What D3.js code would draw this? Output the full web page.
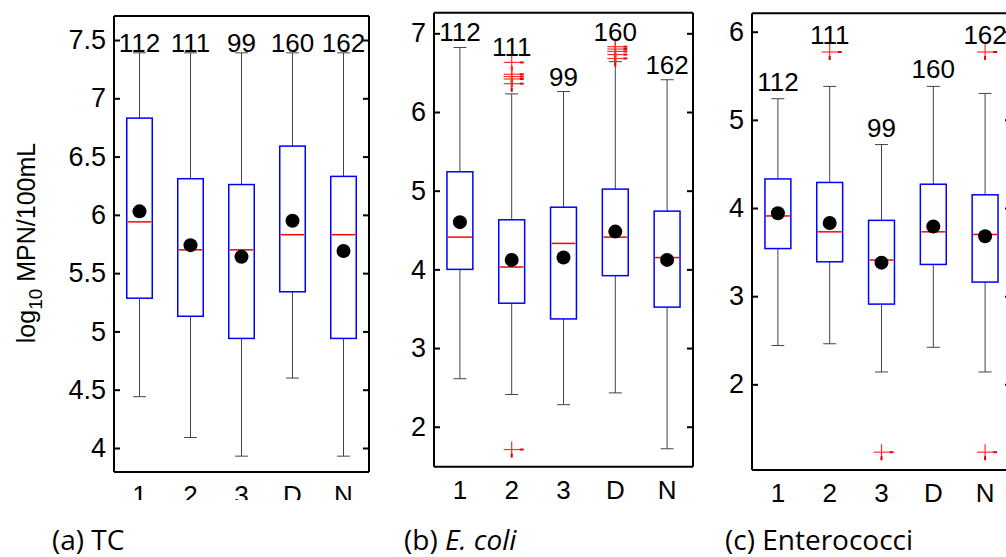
<!DOCTYPE html>
<html>
<head>
<meta charset="utf-8">
<script src="https://cdn.jsdelivr.net/npm/d3@7"></script>
<style>
  html, body { margin: 0; padding: 0; background: #fff; }
  svg { display: block; }
  .tick-label { font-family: "Liberation Sans", Arial, sans-serif; font-size: 27px; fill: #000; }
  .count-label, .cat-label { font-family: "Liberation Sans", Arial, sans-serif; font-size: 26px; fill: #000; }
  .ylab { font-family: "Liberation Sans", Arial, sans-serif; font-size: 25px; fill: #000; }
  .caption { font-family: "Open Sans", sans-serif; font-size: 28px; fill: #000; }
</style>
</head>
<body>
<svg id="chart" width="1006" height="557"></svg>
<script>
// ---------------- data ----------------
const categories = ["1", "2", "3", "D", "N"];
const counts = [112, 111, 99, 160, 162];

// (a) TC
const tcLow    = [4.44, 4.09, 3.93, 4.60, 3.93];
const tcQ1     = [5.285, 5.13, 4.94, 5.34, 4.94];
const tcMedian = [5.94, 5.70, 5.70, 5.83, 5.83];
const tcQ3     = [6.83, 6.31, 6.26, 6.59, 6.33];
const tcHigh   = [7.39, 7.39, 7.39, 7.39, 7.39];
const tcMean   = [6.03, 5.74, 5.64, 5.95, 5.69];
const tcOutliers = [[], [], [], [], []];
const tcTicks  = [4, 4.5, 5, 5.5, 6, 6.5, 7, 7.5];

// (b) E. coli
const ecLow    = [2.61, 2.41, 2.28, 2.43, 1.72];
const ecQ1     = [4.00, 3.57, 3.37, 3.92, 3.52];
const ecMedian = [4.41, 4.03, 4.33, 4.41, 4.15];
const ecQ3     = [5.24, 4.63, 4.79, 5.02, 4.74];
const ecHigh   = [6.82, 6.23, 6.26, 6.64, 6.41];
const ecMean   = [4.60, 4.12, 4.15, 4.48, 4.12];
const ecOutliers = [[], [6.63, 6.48, 6.45, 6.42, 6.36, 1.71], [], [6.83, 6.80, 6.77, 6.73, 6.68], []];
const ecTicks  = [2, 3, 4, 5, 6, 7];

// (c) Enterococci
const enLow    = [2.44, 2.46, 2.14, 2.42, 2.14];
const enQ1     = [3.54, 3.39, 2.91, 3.36, 3.16];
const enMedian = [3.91, 3.73, 3.41, 3.73, 3.70];
const enQ3     = [4.33, 4.29, 3.86, 4.27, 4.15];
const enHigh   = [5.24, 5.38, 4.72, 5.38, 5.30];
const enMean   = [3.94, 3.83, 3.38, 3.79, 3.68];
const enOutliers = [[], [5.77], [1.23], [], [5.77, 1.23]];
const enTicks  = [2, 3, 4, 5, 6];

// ---------------- layout ----------------
const svg = d3.select("#chart");

const panels = [
  { low: tcLow, q1: tcQ1, med: tcMedian, q3: tcQ3, high: tcHigh, mean: tcMean, out: tcOutliers,
    ticks: tcTicks, yDomain: [3.794, 7.706], x0: 114, x1: 369, top: 16, bottom: 472,
    labelGap: 1, clipLabels: 500 },
  { low: ecLow, q1: ecQ1, med: ecMedian, q3: ecQ3, high: ecHigh, mean: ecMean, out: ecOutliers,
    ticks: ecTicks, yDomain: [1.492, 7.262], x0: 434, x1: 693, top: 12.7, bottom: 466.7,
    labelGap: 6, clipLabels: null },
  { low: enLow, q1: enQ1, med: enMedian, q3: enQ3, high: enHigh, mean: enMean, out: enOutliers,
    ticks: enTicks, yDomain: [1.028, 6.209], x0: 752, x1: 1011, top: 13.3, bottom: 470,
    labelGap: 8, clipLabels: null }
];

const defs = svg.append("defs");

panels.forEach((p, pi) => {
  const g = svg.append("g");
  const x = d3.scaleLinear().domain([0.5, categories.length + 0.5]).range([p.x0, p.x1]);
  const y = d3.scaleLinear().domain(p.yDomain).range([p.bottom, p.top]);
  const unit = x(2) - x(1);
  const boxW = unit * 0.5;
  const capW = unit * 0.25;

  const data = categories.map((c, i) => ({
    cat: c, pos: i + 1, n: counts[i], low: p.low[i], q1: p.q1[i], med: p.med[i],
    q3: p.q3[i], high: p.high[i], mean: p.mean[i], out: p.out[i]
  }));

  // whiskers
  const wg = g.append("g").attr("stroke", "#444").attr("stroke-width", 1).attr("fill", "none");
  data.forEach(d => {
    const cx = x(d.pos);
    wg.append("line").attr("x1", cx).attr("x2", cx).attr("y1", y(d.high)).attr("y2", y(d.q3));
    wg.append("line").attr("x1", cx).attr("x2", cx).attr("y1", y(d.q1)).attr("y2", y(d.low));
    wg.append("line").attr("x1", cx - capW / 2).attr("x2", cx + capW / 2).attr("y1", y(d.high)).attr("y2", y(d.high));
    wg.append("line").attr("x1", cx - capW / 2).attr("x2", cx + capW / 2).attr("y1", y(d.low)).attr("y2", y(d.low));
  });

  // boxes
  g.append("g").selectAll("rect").data(data).join("rect")
    .attr("x", d => x(d.pos) - boxW / 2)
    .attr("width", boxW)
    .attr("y", d => y(d.q3))
    .attr("height", d => y(d.q1) - y(d.q3))
    .attr("fill", "none").attr("stroke", "#0000ff").attr("stroke-width", 1.5);

  // medians
  g.append("g").selectAll("line").data(data).join("line")
    .attr("x1", d => x(d.pos) - boxW / 2 + 1)
    .attr("x2", d => x(d.pos) + boxW / 2 - 1)
    .attr("y1", d => y(d.med)).attr("y2", d => y(d.med))
    .attr("stroke", "#ff0000").attr("stroke-width", 1.5);

  // outliers (+)
  const og = g.append("g").attr("stroke", "#ff3030").attr("stroke-width", 1.2);
  data.forEach(d => {
    d.out.forEach(v => {
      const cx = x(d.pos), cy = y(v);
      og.append("line").attr("x1", cx - 8).attr("x2", cx + 8).attr("y1", cy).attr("y2", cy);
      og.append("line").attr("x1", cx).attr("x2", cx).attr("y1", cy - 8).attr("y2", cy + 8);
      og.append("line").attr("x1", cx + 8).attr("x2", cx + 12).attr("y1", cy).attr("y2", cy)
        .attr("stroke", "#e00000").attr("stroke-width", 2);
      og.append("line").attr("x1", cx).attr("x2", cx).attr("y1", cy + 4).attr("y2", cy + 8)
        .attr("stroke", "#e00000").attr("stroke-width", 2);
    });
  });

  // means
  g.append("g").selectAll("circle").data(data).join("circle")
    .attr("cx", d => x(d.pos)).attr("cy", d => y(d.mean)).attr("r", 7).attr("fill", "#000");

  // frame
  const fg = g.append("g").attr("stroke", "#000").attr("stroke-width", 2).attr("fill", "none");
  fg.append("line").attr("x1", p.x0).attr("x2", p.x1).attr("y1", p.top).attr("y2", p.top);
  fg.append("line").attr("x1", p.x0).attr("x2", p.x1).attr("y1", p.bottom).attr("y2", p.bottom);
  fg.append("line").attr("x1", p.x0).attr("x2", p.x0).attr("y1", p.top).attr("y2", p.bottom);
  fg.append("line").attr("x1", p.x1).attr("x2", p.x1).attr("y1", p.top).attr("y2", p.bottom);

  // y ticks (left and right, inward) via axis generators
  const leftAxis = d3.axisLeft(y).tickValues(p.ticks).tickSize(-6).tickPadding(8)
    .tickFormat(d3.format("~g"));
  const la = g.append("g").attr("transform", `translate(${p.x0},0)`).call(leftAxis);
  la.attr("font-size", null).attr("font-family", null);
  la.select(".domain").remove();
  la.selectAll(".tick line").attr("stroke", "#000").attr("stroke-width", 2);
  la.selectAll(".tick text").attr("class", "tick-label").attr("x", -8);

  const rightAxis = d3.axisRight(y).tickValues(p.ticks).tickSize(-6).tickFormat("");
  const ra = g.append("g").attr("transform", `translate(${p.x1},0)`).call(rightAxis);
  ra.select(".domain").remove();
  ra.selectAll(".tick line").attr("stroke", "#000").attr("stroke-width", 2);

  // x category labels
  let clipAttr = null;
  if (p.clipLabels !== null) {
    const id = "clip" + pi;
    defs.append("clipPath").attr("id", id).append("rect")
      .attr("x", 0).attr("y", 0).attr("width", 1006).attr("height", p.clipLabels);
    clipAttr = `url(#${id})`;
  }
  g.append("g").attr("clip-path", clipAttr).selectAll("text").data(data).join("text")
    .attr("class", "cat-label")
    .attr("x", d => x(d.pos)).attr("y", p.bottom + 32)
    .attr("text-anchor", "middle")
    .text(d => d.cat);

  // count labels (just above the highest plotted value of each group)
  g.append("g").selectAll("text").data(data).join("text")
    .attr("class", "count-label")
    .attr("x", d => x(d.pos))
    .attr("y", d => y(Math.max(d.high, ...d.out)) - p.labelGap)
    .attr("text-anchor", "middle")
    .text(d => d.n);
});

// y-axis title
const yl = svg.append("text").attr("class", "ylab")
  .attr("transform", "translate(35,243) rotate(-90)")
  .attr("text-anchor", "middle");
yl.append("tspan").text("log");
yl.append("tspan").attr("font-size", "19px").attr("dy", 7).text("10");
yl.append("tspan").attr("dy", -7).text(" MPN/100mL");

// captions
svg.append("text").attr("class", "caption").attr("x", 52).attr("y", 550).text("(a) TC");
const cb = svg.append("text").attr("class", "caption").attr("x", 404).attr("y", 550);
cb.append("tspan").text("(b) ");
cb.append("tspan").attr("font-style", "italic").text("E. coli");
svg.append("text").attr("class", "caption").attr("x", 725).attr("y", 550).text("(c) Enterococci");
</script>
</body>
</html>
